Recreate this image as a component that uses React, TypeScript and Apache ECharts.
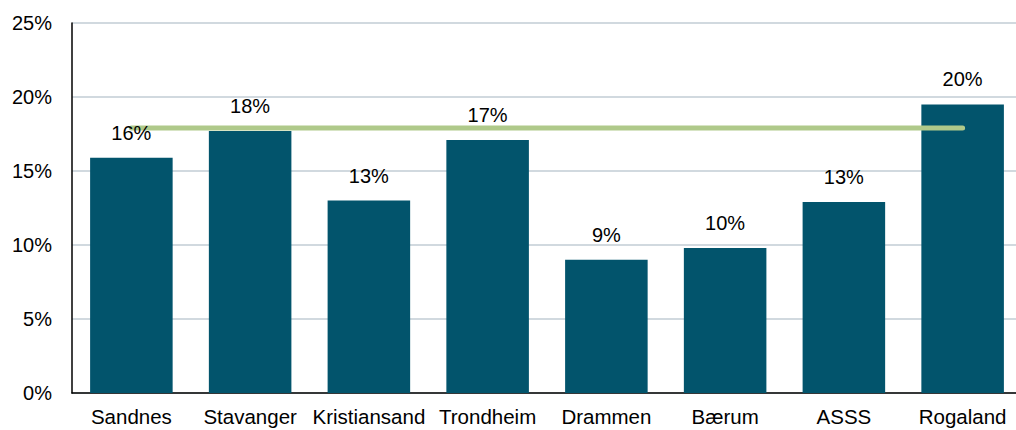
import React, { useEffect, useRef } from "react";
import * as echarts from "echarts";

const categories = ["Sandnes", "Stavanger", "Kristiansand", "Trondheim", "Drammen", "Bærum", "ASSS", "Rogaland"];
const barValues = [15.9, 17.7, 13.0, 17.1, 9.0, 9.8, 12.9, 19.5];
const averageValues = [17.9, 17.9, 17.9, 17.9, 17.9, 17.9, 17.9, 17.9];
const yTicks = [0, 5, 10, 15, 20, 25];

export default function App() {
  const ref = useRef<HTMLDivElement>(null);
  useEffect(() => {
    document.body.style.margin = "0";
    const chart = echarts.init(ref.current!, null, { renderer: "svg" });
    const font = "'Liberation Sans', Arial, sans-serif";
    chart.setOption({
      animation: false,
      textStyle: { fontFamily: font },
      grid: { left: 72, top: 23, right: 8, bottom: 37, containLabel: false },
      xAxis: {
        type: "category",
        data: categories,
        boundaryGap: true,
        axisLine: { show: true, lineStyle: { color: "#000", width: 1.5 } },
        axisTick: { show: false },
        axisLabel: { color: "#000", fontSize: 20.5, fontFamily: font, margin: 13, interval: 0 },
      },
      yAxis: {
        type: "value",
        min: yTicks[0],
        max: yTicks[yTicks.length - 1],
        interval: 5,
        axisLine: { show: true, lineStyle: { color: "#000", width: 1.5 } },
        axisTick: { show: false },
        axisLabel: { color: "#000", fontSize: 20, fontFamily: font, margin: 20, formatter: (v: number) => v + "%" },
        splitLine: { show: true, lineStyle: { color: "#c2ccd4", width: 1.5 } },
      },
      series: [
        {
          type: "bar",
          data: barValues,
          barWidth: "69.5%",
          itemStyle: { color: "#02546c" },
          z: 2,
        },
        {
          type: "line",
          data: averageValues,
          showSymbol: false,
          symbol: "none",
          lineStyle: { color: "#afc98a", width: 5, cap: "round" },
          z: 3,
        },
        {
          type: "bar",
          data: barValues,
          barWidth: "69.5%",
          barGap: "-100%",
          itemStyle: { color: "transparent" },
          silent: true,
          z: 4,
          label: {
            show: true,
            position: "top",
            distance: 15,
            color: "#000",
            fontSize: 20,
            fontFamily: font,
            formatter: (p: any) => Math.round(p.value) + "%",
          },
        },
      ],
    });
    return () => chart.dispose();
  }, []);
  return (
    <div style={{ position: "absolute", left: 0, top: 0, width: 1016, height: 430, overflow: "hidden" }}>
      <div ref={ref} style={{ width: 1030, height: 430 }} />
    </div>
  );
}
